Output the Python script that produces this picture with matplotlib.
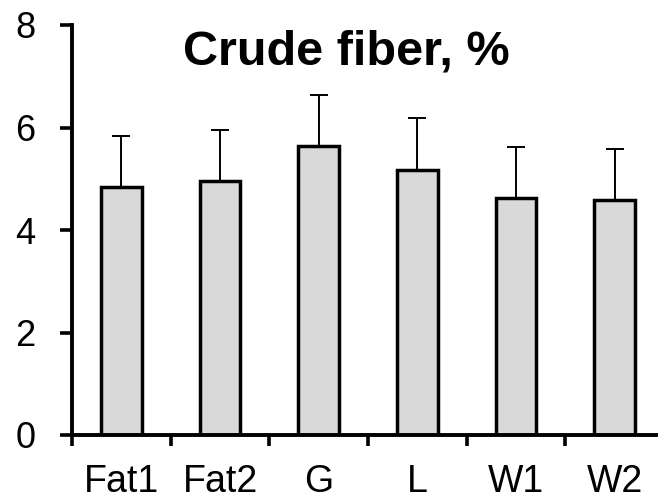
import numpy as np
import matplotlib
matplotlib.use('Agg')
import matplotlib.pyplot as plt

plt.rcParams['font.family'] = ['Liberation Sans', 'DejaVu Sans']

# values
groups = ['Fat1', 'Fat2', 'G', 'L', 'W1', 'W2']
means = [4.84, 4.96, 5.64, 5.17, 4.62, 4.59]
errors = [0.99, 0.99, 0.99, 1.01, 1.00, 0.99]
yticks = [0, 2, 4, 6, 8]

fig = plt.figure(figsize=(6.58, 5.03), dpi=100)
# axis runs off the right edge like in the original
ax = fig.add_axes([72 / 658, 1 - 435 / 503, 592 / 658, 410 / 503])

x = np.arange(len(groups))
ax.bar(x, means, width=0.41, color='#d9d9d9', edgecolor='black', linewidth=2.5, zorder=2)
ax.errorbar(x, means, yerr=[np.zeros(len(errors)), errors], fmt='none', ecolor='black',
            elinewidth=1.4, capsize=6.5, capthick=1.4, zorder=1)

ax.set_xlim(-0.5, 5.5)
ax.set_ylim(0, 8)
ax.set_yticks(yticks)

# category boundaries get tick marks, labels sit at the centres
ax.set_xticks(np.arange(-0.5, 5.0, 1.0))
ax.set_xticklabels([])
ax.set_xticks(x, minor=True)
ax.set_xticklabels(groups, minor=True)
ax.tick_params(axis='x', which='major', direction='out', length=8, width=2.6)
ax.tick_params(axis='x', which='minor', length=0, pad=21, labelsize=27)
ax.tick_params(axis='y', direction='out', length=8.5, width=2.6, pad=18, labelsize=26)

for side in ['top', 'right']:
    ax.spines[side].set_visible(False)
for side in ['left', 'bottom']:
    ax.spines[side].set_linewidth(2.8)

fig.text(346 / 658, 1 - 65 / 503, 'Crude fiber, %', fontsize=35, fontweight='bold',
         ha='center', va='baseline')

fig.savefig('out.png', dpi=100)
